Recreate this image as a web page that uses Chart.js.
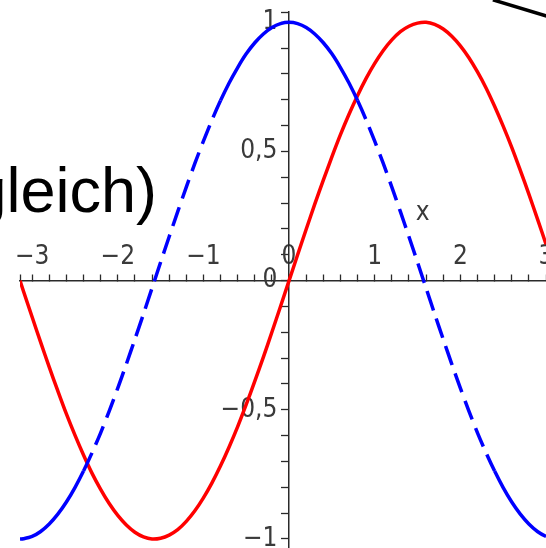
<!DOCTYPE html>
<html>
<head>
<meta charset="utf-8">
<script src="https://cdn.jsdelivr.net/npm/chart.js@4/dist/chart.umd.min.js"></script>
<style>
    html, body { margin: 0; padding: 0; background: #fff; }
    #wrap { width: 546px; height: 548px; position: relative; }
</style>
</head>
<body>
<div id="wrap"><canvas id="plot"></canvas></div>
<script>
// sample positions along x
const xValues = [-3.1416, -3.1, -3.0, -2.9, -2.8, -2.7, -2.6, -2.5, -2.4, -2.3, -2.2, -2.1,
    -2.0, -1.9, -1.8, -1.7, -1.6, -1.5, -1.4, -1.3, -1.2, -1.1, -1.0, -0.9, -0.8, -0.7,
    -0.6, -0.5, -0.4, -0.3, -0.2, -0.1, 0, 0.1, 0.2, 0.3, 0.4, 0.5, 0.6, 0.7, 0.8, 0.9,
    1.0, 1.1, 1.2, 1.3, 1.4, 1.5, 1.6, 1.7, 1.8, 1.9, 2.0, 2.1, 2.2, 2.3, 2.4, 2.5, 2.6,
    2.7, 2.8, 2.9, 3.0, 3.1];

// red curve
const sinValues = [0.000, -0.042, -0.141, -0.239, -0.335, -0.427, -0.516, -0.598, -0.675, -0.746,
    -0.808, -0.863, -0.909, -0.946, -0.974, -0.992, -1.000, -0.997, -0.985, -0.964, -0.932, -0.891,
    -0.841, -0.783, -0.717, -0.644, -0.565, -0.479, -0.389, -0.296, -0.199, -0.100, 0.000,
    0.100, 0.199, 0.296, 0.389, 0.479, 0.565, 0.644, 0.717, 0.783, 0.841, 0.891, 0.932, 0.964,
    0.985, 0.997, 1.000, 0.992, 0.974, 0.946, 0.909, 0.863, 0.808, 0.746, 0.675, 0.598, 0.516,
    0.427, 0.335, 0.239, 0.141, 0.042];

// blue curve
const cosValues = [-1.000, -0.999, -0.990, -0.971, -0.942, -0.904, -0.857, -0.801, -0.737, -0.666,
    -0.589, -0.505, -0.416, -0.323, -0.227, -0.129, -0.029, 0.071, 0.170, 0.267, 0.362, 0.454,
    0.540, 0.622, 0.697, 0.765, 0.825, 0.878, 0.921, 0.955, 0.980, 0.995, 1.000,
    0.995, 0.980, 0.955, 0.921, 0.878, 0.825, 0.765, 0.697, 0.622, 0.540, 0.454, 0.362, 0.267,
    0.170, 0.071, -0.029, -0.129, -0.227, -0.323, -0.416, -0.505, -0.589, -0.666, -0.737, -0.801,
    -0.857, -0.904, -0.942, -0.971, -0.990, -0.999];

// stretches of the blue curve drawn dashed
const dashedRanges = [[-2.36, -0.79], [0.79, 2.36]];

// pointer stroke entering from the top right
const pointerX = [2.38, 3.1];
const pointerY = [1.087, 1.015];

// tick marks (labels only on the whole / half units)
const xTicks = [-3.1416, -3.0, -2.8, -2.6, -2.4, -2.2, -2.0, -1.8, -1.6, -1.4, -1.2, -1.0, -0.8,
    -0.6, -0.4, -0.2, 0, 0.2, 0.4, 0.6, 0.8, 1.0, 1.2, 1.4, 1.6, 1.8, 2.0, 2.2, 2.4, 2.6, 2.8, 3.0];
const yTicks = [-1.0, -0.9, -0.8, -0.7, -0.6, -0.5, -0.4, -0.3, -0.2, -0.1, 0, 0.1, 0.2, 0.3,
    0.4, 0.5, 0.6, 0.7, 0.8, 0.9, 1.0, 1.04];

const xMin = -3.1416, xMax = 3.0;
const yMin = -1.035, yMax = 1.04;

const fontFamily = "'DejaVu Sans Condensed', 'DejaVu Sans', sans-serif";
const tickFont = { family: fontFamily, size: 26 };
const axisColor = '#2a2a2a';
const labelColor = '#3a3a3a';

function toPoints(xs, ys) {
    return xs.map((x, i) => ({ x, y: ys[i] }));
}

function fmt(v) {
    const s = String(Math.abs(v)).replace('.', ',');
    return v < 0 ? '\u2212' + s : s;
}

function isMultiple(v, step) {
    const q = v / step;
    return Math.abs(q - Math.round(q)) < 1e-6;
}

function inDashed(ctx) {
    const mid = (ctx.p0.parsed.x + ctx.p1.parsed.x) / 2;
    return dashedRanges.some(([a, b]) => mid > a && mid < b);
}

function noScalePadding(scale) {
    scale.paddingLeft = 0;
    scale.paddingRight = 0;
    scale.paddingTop = 0;
    scale.paddingBottom = 0;
}

// axis name and the bit of caption text
const extraText = {
    id: 'extraText',
    afterDraw(chart) {
        const { ctx, scales: { x, y } } = chart;
        ctx.save();
        ctx.fillStyle = labelColor;
        ctx.font = '26px ' + fontFamily;
        ctx.textAlign = 'center';
        ctx.textBaseline = 'middle';
        ctx.fillText('x', x.getPixelForValue(1.56), y.getPixelForValue(0.26));

        ctx.fillStyle = '#000';
        ctx.font = "63px 'Liberation Sans', Arial, sans-serif";
        ctx.textAlign = 'right';
        ctx.textBaseline = 'alphabetic';
        ctx.fillText('gleich)', 157, 212);
        ctx.restore();
    }
};

new Chart(document.getElementById('plot'), {
    type: 'line',
    data: {
        datasets: [
            {
                label: 'cos',
                data: toPoints(xValues, cosValues),
                borderColor: '#0000ff',
                borderWidth: 3.5,
                tension: 0.3,
                segment: {
                    borderDash: ctx => inDashed(ctx) ? [20, 9] : undefined,
                },
            },
            {
                label: 'sin',
                data: toPoints(xValues, sinValues),
                borderColor: '#ff0000',
                borderWidth: 3.5,
                tension: 0.3,
            },
            {
                label: 'pointer',
                data: toPoints(pointerX, pointerY),
                borderColor: '#000',
                borderWidth: 3.5,
                clip: false,
            },
        ],
    },
    options: {
        responsive: true,
        maintainAspectRatio: false,
        animation: false,
        layout: { padding: { left: 20, top: 12, right: 0, bottom: 0 } },
        elements: { point: { radius: 0 } },
        plugins: {
            legend: { display: false },
            tooltip: { enabled: false },
        },
        scales: {
            x: {
                type: 'linear',
                min: xMin,
                max: xMax,
                position: { y: 0 },
                afterBuildTicks: scale => { scale.ticks = xTicks.map(value => ({ value })); },
                afterFit: noScalePadding,
                border: { display: true, color: axisColor, width: 1.5 },
                grid: {
                    drawOnChartArea: false,
                    drawTicks: true,
                    tickLength: -7,
                    tickColor: axisColor,
                    tickWidth: 1.3,
                },
                ticks: {
                    autoSkip: false,
                    maxRotation: 0,
                    padding: -32,
                    color: labelColor,
                    font: tickFont,
                    callback: v => isMultiple(v, 1) ? fmt(Math.round(v)) : '',
                },
            },
            y: {
                type: 'linear',
                min: yMin,
                max: yMax,
                position: { x: 0 },
                afterBuildTicks: scale => { scale.ticks = yTicks.map(value => ({ value })); },
                afterFit: noScalePadding,
                border: { display: true, color: axisColor, width: 1.5 },
                grid: {
                    drawOnChartArea: false,
                    drawTicks: true,
                    tickLength: 7,
                    tickColor: axisColor,
                    tickWidth: 1.3,
                },
                ticks: {
                    autoSkip: false,
                    color: labelColor,
                    font: tickFont,
                    callback: v => isMultiple(v, 0.5) ? fmt(Math.round(v * 2) / 2) + '\u2002' : '',
                },
            },
        },
    },
    plugins: [extraText],
});
</script>
</body>
</html>
